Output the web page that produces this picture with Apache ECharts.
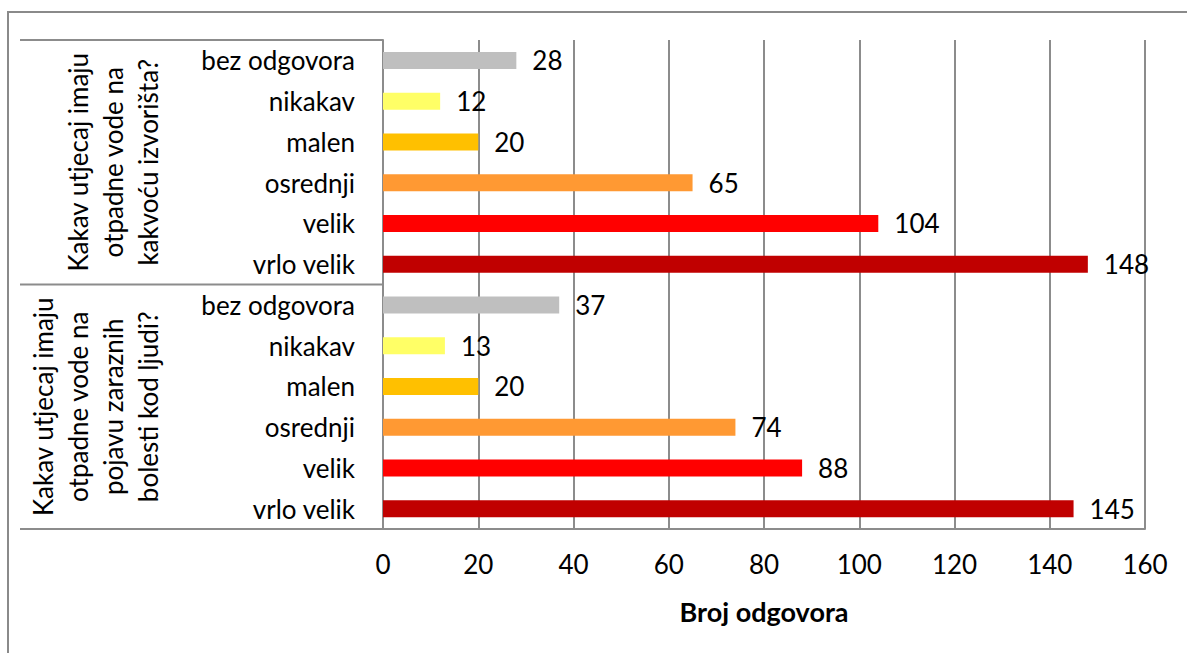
<!DOCTYPE html>
<html>
<head>
<meta charset="utf-8">
<script src="https://cdn.jsdelivr.net/npm/echarts@6/dist/echarts.min.js"></script>
<style>
html,body{margin:0;padding:0;background:#fff;overflow:hidden;}
#frame{position:absolute;left:7px;top:11px;width:1300px;height:800px;border:2px solid #8a8a8a;box-sizing:border-box;}
#chart{position:absolute;left:0;top:0;width:1187px;height:653px;}
</style>
</head>
<body>
<div id="frame"></div>
<div id="chart"></div>
<script>
// Data
const groups = [
  'Kakav utjecaj imaju\notpadne vode na\nkakvoću izvorišta?',
  'Kakav utjecaj imaju\notpadne vode na\npojavu zaraznih\nbolesti kod ljudi?'
];
const answers = ['bez odgovora', 'nikakav', 'malen', 'osrednji', 'velik', 'vrlo velik'];
const answerColors = ['#BFBFBF', '#FFFF66', '#FFC000', '#FF9933', '#FF0000', '#C00000'];
const valuesGroup1 = [28, 12, 20, 65, 104, 148];
const valuesGroup2 = [37, 13, 20, 74, 88, 145];
const xTicks = [0, 20, 40, 60, 80, 100, 120, 140, 160];

const categories = answers.concat(answers);
const values = valuesGroup1.concat(valuesGroup2);
const barData = values.map((v, i) => ({ value: v, itemStyle: { color: answerColors[i % answers.length] } }));

const FONT = 'Lato';
const lineColor = '#8c8c8c';

const chart = echarts.init(document.getElementById('chart'), null, { renderer: 'svg' });
chart.setOption({
  animation: false,
  backgroundColor: 'transparent',
  grid: { left: 383, right: 42, top: 40, bottom: 124, containLabel: false, show: false },
  xAxis: {
    type: 'value',
    min: xTicks[0],
    max: xTicks[xTicks.length - 1],
    interval: 20,
    name: 'Broj odgovora',
    nameLocation: 'middle',
    nameGap: 69,
    nameTextStyle: { fontFamily: FONT, fontWeight: 'bold', fontSize: 27, color: '#000' },
    axisLine: { show: true, lineStyle: { color: lineColor, width: 2 } },
    axisTick: { show: false },
    axisLabel: { fontFamily: FONT, fontSize: 26, color: '#000', margin: 22 },
    splitLine: { show: true, lineStyle: { color: lineColor, width: 2 } }
  },
  yAxis: {
    type: 'category',
    data: categories,
    inverse: true,
    axisLine: { show: true, lineStyle: { color: lineColor, width: 2 } },
    axisTick: { show: false },
    axisLabel: { fontFamily: FONT, fontSize: 26, color: '#000', margin: 28, interval: 0 },
    splitLine: { show: false }
  },
  series: [{
    type: 'bar',
    data: barData,
    barWidth: 17,
    label: {
      show: true, position: 'right', distance: 16,
      fontFamily: FONT, fontSize: 26, color: '#000'
    }
  }]
});

// Group labels and group divider lines, placed from the category axis scale
const axisX = chart.convertToPixel({ xAxisIndex: 0 }, 0);
const c0 = chart.convertToPixel({ yAxisIndex: 0 }, 0);
const c1 = chart.convertToPixel({ yAxisIndex: 0 }, 1);
const halfBand = (c1 - c0) / 2;
const graphics = [];
groups.forEach((text, g) => {
  const first = chart.convertToPixel({ yAxisIndex: 0 }, g * answers.length);
  const last = chart.convertToPixel({ yAxisIndex: 0 }, (g + 1) * answers.length - 1);
  graphics.push({
    type: 'text',
    x: axisX - 218,
    y: (first + last) / 2,
    rotation: Math.PI / 2,
    style: {
      text: text,
      fontFamily: FONT,
      fontSize: 26,
      fill: '#000',
      align: 'center',
      verticalAlign: 'bottom',
      lineHeight: 35
    }
  });
  const boundaries = g === 0 ? [first - halfBand, last + halfBand] : [last + halfBand];
  boundaries.forEach((yb) => {
    graphics.push({
      type: 'line',
      shape: { x1: axisX - 363, y1: yb, x2: axisX, y2: yb },
      style: { stroke: lineColor, lineWidth: 2 }
    });
  });
});
chart.setOption({ graphic: graphics });
</script>
</body>
</html>
